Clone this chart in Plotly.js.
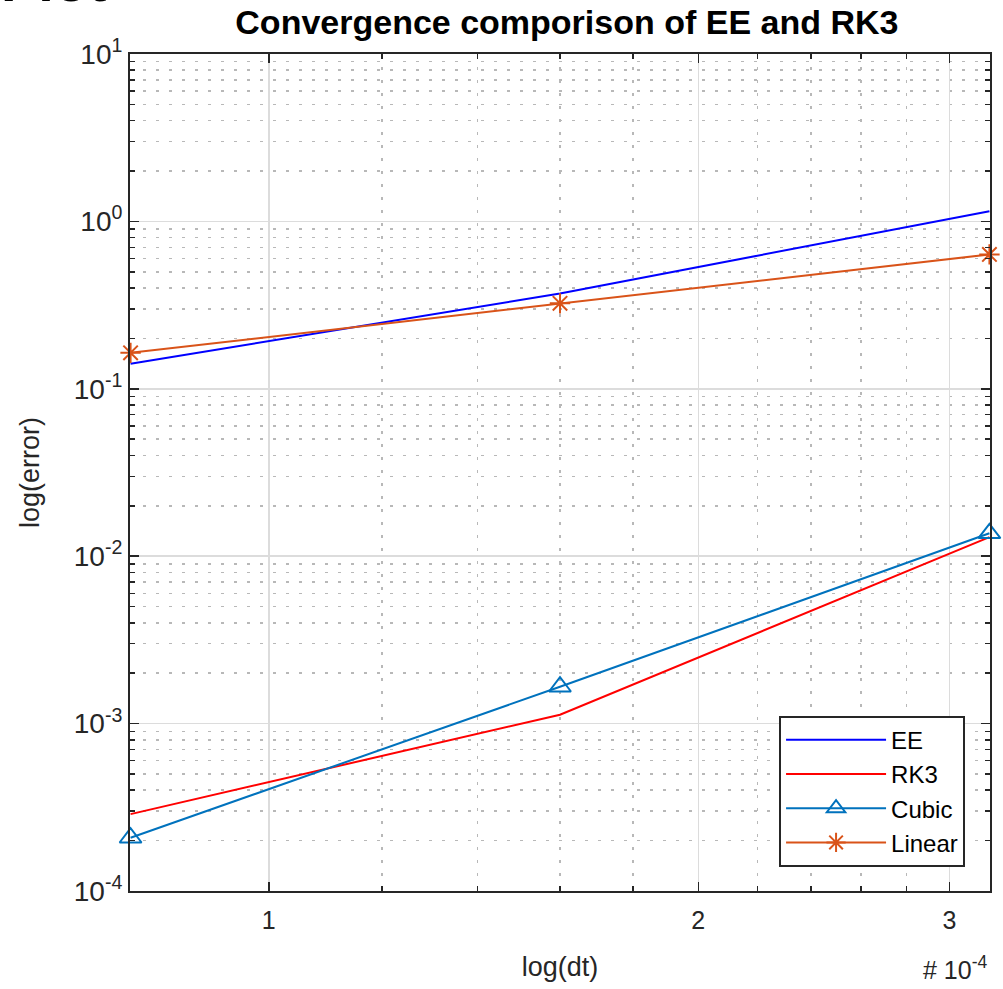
<!DOCTYPE html>
<html>
<head>
<meta charset="utf-8">
<script src="https://cdn.plot.ly/plotly-3.0.1.min.js"></script>
<style>html,body{margin:0;padding:0;background:#fff;}#chart{width:1003px;height:989px;}</style>
</head>
<body>
<div id="chart"></div>
<script>
// Data (dt values in seconds)
const dt = [0.8e-4, 1.6e-4, 3.2e-4];
const errEE = [0.141, 0.371, 1.15];
const errRK3 = [2.88e-4, 1.13e-3, 0.0130];
const errCubic = [2.08e-4, 1.66e-3, 0.0137];
const errLinear = [0.164, 0.324, 0.635];

const xTickVals = [1e-4, 2e-4, 3e-4];
const xTickText = ["1", "2", "3"];
const xMinorVals = [1.2e-4, 1.4e-4, 1.6e-4, 1.8e-4, 2.2e-4, 2.4e-4, 2.6e-4, 2.8e-4];
const yTickVals = [1e-4, 1e-3, 1e-2, 1e-1, 1, 10];
const yTickText = ["10<sup>-4</sup>", "10<sup>-3</sup>", "10<sup>-2</sup>", "10<sup>-1</sup>", "10<sup>0</sup>", "10<sup>1</sup>"];

const FONT = "Liberation Sans, Arial, Helvetica, sans-serif";
const AX = "#262626";
const DOT = "3px,10px";
const EPS = 0.0004;

const traces = [
  {x: dt, y: errEE, name: "EE", mode: "lines", cliponaxis: false, line: {color: "#0000FF", width: 2}},
  {x: dt, y: errRK3, name: "RK3", mode: "lines", cliponaxis: false, line: {color: "#FF0000", width: 2}},
  {x: dt, y: errCubic, name: "Cubic", mode: "lines+markers", cliponaxis: false, line: {color: "#0072BD", width: 2},
   marker: {symbol: "triangle-up-open", size: 19, color: "#0072BD", line: {width: 2, color: "#0072BD"}}},
  {x: dt, y: errLinear, name: "Linear", mode: "lines+markers", cliponaxis: false, line: {color: "#D95319", width: 2},
   marker: {symbol: "asterisk-open", size: 17, color: "#D95319", line: {width: 2, color: "#D95319"}}}
];

const layout = {
  width: 1003, height: 989,
  paper_bgcolor: "#fff", plot_bgcolor: "#fff",
  margin: {l: 130, r: 13, t: 54, b: 98},
  font: {family: FONT, size: 24, color: AX},
  title: {text: "<b>Convergence comporison of EE and RK3</b>", font: {family: FONT, size: 34, color: "#000"},
          x: 0.508, xref: "paper", xanchor: "center", y: 0.99, yanchor: "top", yref: "container"},
  showlegend: true,
  legend: {x: 0.971, xanchor: "right", y: 0.029, yanchor: "bottom", bgcolor: "#fff",
           bordercolor: AX, borderwidth: 2, font: {family: FONT, size: 24, color: "#000"},
           tracegroupgap: 0, itemwidth: 100},
  xaxis: {
    type: "log", range: [Math.log10(0.8e-4) - EPS, Math.log10(3.2e-4) + EPS],
    tickmode: "array", tickvals: xTickVals, ticktext: xTickText,
    ticks: "inside", ticklen: 9, tickwidth: 1.5, tickcolor: AX,
    showline: true, linecolor: AX, linewidth: 2, mirror: "ticks",
    showgrid: true, gridcolor: "#dcdcdc", gridwidth: 1.5,
    zeroline: false, ticklabelstandoff: 6,
    tickfont: {family: FONT, size: 25, color: AX},
    minor: {tickmode: "array", tickvals: xMinorVals, ticks: "inside", ticklen: 5, tickcolor: AX,
            showgrid: true, gridcolor: "#b8b8b8", griddash: DOT, gridwidth: 1.5},
    title: {text: "log(dt)", font: {family: FONT, size: 27, color: AX}, standoff: 24},
    automargin: false
  },
  yaxis: {
    type: "log", range: [-4, 1],
    tickmode: "array", tickvals: yTickVals, ticktext: yTickText,
    ticks: "inside", ticklen: 9, tickwidth: 1.5, tickcolor: AX,
    showline: true, linecolor: AX, linewidth: 2, mirror: "ticks",
    showgrid: true, gridcolor: "#dcdcdc", gridwidth: 1.5,
    zeroline: false,
    tickfont: {family: FONT, size: 28, color: AX},
    minor: {dtick: "D1", ticks: "inside", ticklen: 5, tickcolor: AX,
            showgrid: true, gridcolor: "#b8b8b8", griddash: DOT, gridwidth: 1.5},
    title: {text: "log(error)", font: {family: FONT, size: 27, color: AX}, standoff: 26},
    automargin: false
  },
  annotations: [
    {text: "# 10<sup>-4</sup>", xref: "paper", yref: "paper", x: 1.0, y: -0.113,
     xanchor: "right", yanchor: "bottom", showarrow: false, font: {family: FONT, size: 25, color: AX}},
    {text: "<b>Plot</b>", xref: "paper", yref: "paper", x: -0.152, y: 1.0465,
     xanchor: "left", yanchor: "bottom", showarrow: false, font: {family: FONT, size: 56, color: "#000"}}
  ]
};

Plotly.newPlot("chart", traces, layout, {displayModeBar: false, staticPlot: true});
</script>
</body>
</html>
